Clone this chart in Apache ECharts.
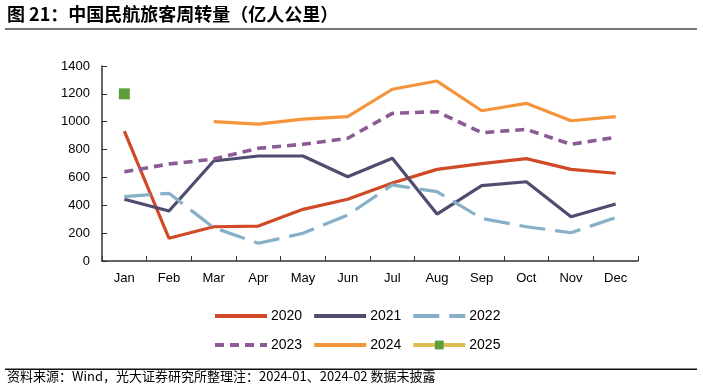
<!DOCTYPE html>
<html><head><meta charset="utf-8">
<script src="https://cdn.jsdelivr.net/npm/echarts@6/dist/echarts.min.js"></script>
<style>html,body{margin:0;padding:0;background:#fff}#c{width:703px;height:390px}</style>
</head><body><div id="c"></div>
<script>
const months = ['Jan','Feb','Mar','Apr','May','Jun','Jul','Aug','Sep','Oct','Nov','Dec'];
const yTicks = [0,200,400,600,800,1000,1200,1400];
const s2020 = [933,163,246,251,371,443,560,658,699,735,658,630];
const s2021 = [443,359,718,754,754,605,737,337,541,569,318,409];
const s2022 = [462,486,240,127,199,330,546,498,306,246,203,311];
const s2023 = [641,696,732,809,838,881,1060,1072,921,945,838,888];
const s2024 = [null,null,1000,983,1019,1036,1233,1292,1079,1132,1007,1036];
const s2025 = [1200,null,null,null,null,null,null,null,null,null,null,null];

const chart = echarts.init(document.getElementById('c'));
const font = 'Liberation Sans, Arial, sans-serif';
const legendBase = {itemWidth:52,itemHeight:11,itemGap:10,
  itemStyle:{opacity:0},
  lineStyle:{width:4},
  textStyle:{fontSize:14,fontFamily:font,color:'#000',padding:[0,0,0,-1]}};
chart.setOption({
  animation:false,
  grid:{left:102,right:65,top:66,bottom:129,containLabel:false},
  xAxis:{type:'category',data:months,boundaryGap:true,
    axisLine:{lineStyle:{color:'#333',width:1.5}},
    axisTick:{show:true,length:5,inside:true,lineStyle:{color:'#333'}},
    axisLabel:{color:'#000',fontSize:13,fontFamily:font,margin:11}},
  yAxis:{type:'value',min:0,max:1400,interval:200,
    axisLine:{show:true,lineStyle:{color:'#333',width:1.5}},
    axisTick:{show:true,length:5,inside:true,lineStyle:{color:'#333'}},
    splitLine:{show:false},
    axisLabel:{color:'#000',fontSize:13,fontFamily:font,margin:12,
      formatter:v=>yTicks.includes(v)?String(v):''}},
  legend:[
    Object.assign({}, legendBase, {data:['2020','2021','2022'],left:208,top:304}),
    Object.assign({}, legendBase, {data:['2023','2024',{name:'2025',itemStyle:{opacity:1,color:'#5E9E3A'}}],left:208,top:333})
  ],
  graphic:[
    {type:'text',left:7,top:5,style:{text:'图 21：中国民航旅客周转量（亿人公里）',fontSize:18,fontWeight:'bold',fill:'#000',fontFamily:'Noto Sans CJK SC, sans-serif'}},
    {type:'rect',shape:{x:5,y:28,width:692,height:2},style:{fill:'#777'}},
    {type:'rect',shape:{x:5,y:368.5,width:692,height:1.5},style:{fill:'#111'}},
    {type:'text',left:7,top:370,style:{text:'资料来源：Wind，光大证券研究所整理注：2024-01、2024-02 数据未披露',fontSize:13,fill:'#000',fontFamily:'Noto Sans CJK SC, sans-serif'}}
  ],
  series:[
    {name:'2020',type:'line',data:s2020,symbol:'none',lineStyle:{color:'#D04A28',width:3.2},itemStyle:{color:'#D04A28'}},
    {name:'2021',type:'line',data:s2021,symbol:'none',lineStyle:{color:'#4F4C70',width:3.2},itemStyle:{color:'#4F4C70'}},
    {name:'2022',type:'line',data:s2022,symbol:'none',lineStyle:{color:'#86B0C8',width:3.2,type:[26,10]},itemStyle:{color:'#86B0C8'}},
    {name:'2023',type:'line',data:s2023,symbol:'none',lineStyle:{color:'#8A5B95',width:3.6,type:[9,6]},itemStyle:{color:'#8A5B95'}},
    {name:'2024',type:'line',data:s2024,symbol:'none',lineStyle:{color:'#F5943A',width:3.2},itemStyle:{color:'#F5943A'}},
    {name:'2025',type:'line',data:s2025,symbol:'rect',symbolSize:11,showAllSymbol:true,
     lineStyle:{color:'#DDBE50',width:3.2},itemStyle:{color:'#5E9E3A'}}
  ]
});
</script></body></html>
